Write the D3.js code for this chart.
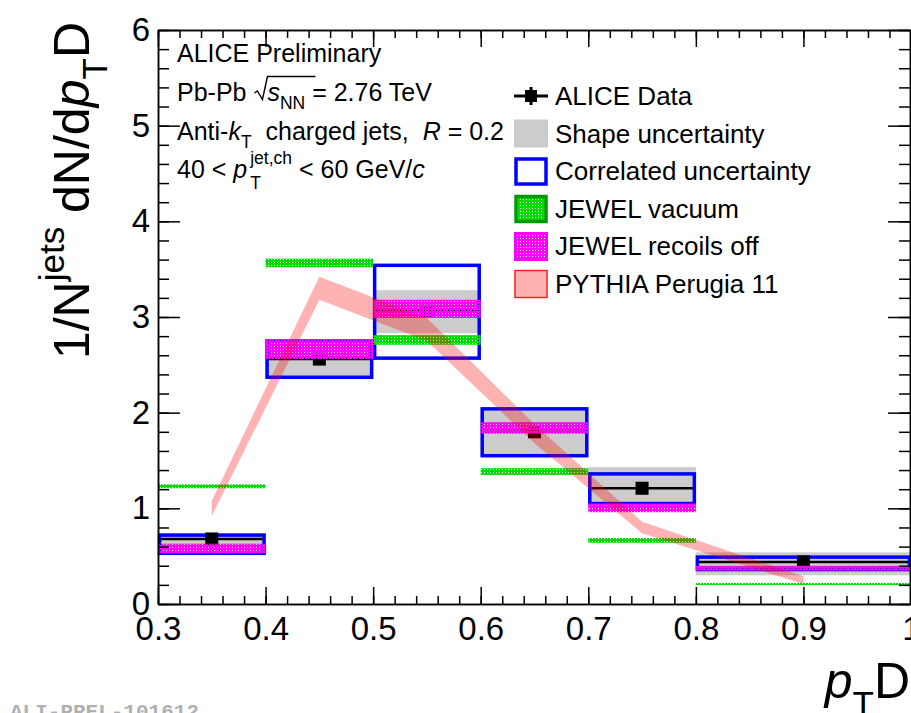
<!DOCTYPE html>
<html>
<head>
<meta charset="utf-8">
<script src="https://cdn.jsdelivr.net/npm/d3@7"></script>
<style>
  body { margin: 0; background: #fff; }
  svg { display: block; font-family: "Liberation Sans", Arial, sans-serif; }
  text { white-space: pre; }
</style>
</head>
<body>
<svg id="chart" width="911" height="713"></svg>
<script>
// bins (pT D)
var binLo = [0.3, 0.4, 0.5, 0.6, 0.7, 0.8];
var binHi = [0.4, 0.5, 0.6, 0.7, 0.8, 1.0];
var binCenter = [0.35, 0.45, 0.55, 0.65, 0.75, 0.9];

// ALICE data
var aliceVal  = [0.68, 2.56, 3.06, 1.80, 1.21, 0.44];
var aliceStat = [0.03, 0.04, 0.05, 0.04, 0.04, 0.02];
// shape uncertainty (grey)
var shapeLo = [0.51, 2.37, 2.83, 1.55, 1.00, 0.30];
var shapeHi = [0.74, 2.75, 3.28, 2.05, 1.43, 0.54];
// correlated uncertainty (blue)
var corrLo = [0.53, 2.37, 2.57, 1.55, 1.05, 0.36];
var corrHi = [0.72, 2.75, 3.54, 2.04, 1.36, 0.49];
// JEWEL vacuum (green)
var vacLo = [1.21, 3.52, 2.71, 1.35, 0.64, 0.20];
var vacHi = [1.25, 3.61, 2.81, 1.42, 0.69, 0.22];
// JEWEL recoils off (magenta)
var recLo = [0.53, 2.56, 2.99, 1.78, 0.96, 0.35];
var recHi = [0.63, 2.77, 3.18, 1.90, 1.05, 0.40];
// PYTHIA Perugia 11
var pythiaX   = [0.35, 0.45, 0.55, 0.65, 0.75, 0.9];
var pythiaVal = [1.00, 3.30, 2.87, 1.78, 0.80, 0.25];
var pythiaErr = [0.08, 0.12, 0.12, 0.10, 0.06, 0.04];

// ticks and labels
var xMajor = [0.3, 0.4, 0.5, 0.6, 0.7, 0.8, 0.9, 1.0];
var yMajor = [0, 1, 2, 3, 4, 5, 6];
var legendLabels = ["ALICE Data", "Shape uncertainty", "Correlated uncertainty",
                    "JEWEL vacuum", "JEWEL recoils off", "PYTHIA Perugia 11"];

var svg = d3.select("#chart");
var x = d3.scaleLinear().domain([0.3, 1.0]).range([158, 911]);
var y = d3.scaleLinear().domain([0, 6]).range([604, 30]);

//patterns for the JEWEL bands (solid colour with little holes)
var defs = svg.append("defs");
function holePattern(id, col) {
  var p = defs.append("pattern").attr("id", id).attr("patternUnits", "userSpaceOnUse")
    .attr("width", 3).attr("height", 3);
  p.append("path").attr("d", "M0,0h3v3h-3z M1,1h1v1h-1z")
    .attr("fill", col).attr("fill-rule", "evenodd");
}
holePattern("pMag", "#ff00ff");
holePattern("pGreen", "#00dd00");

var idx = d3.range(binLo.length);
var plot = svg.append("g");

// grey shape boxes
plot.selectAll("rect.shape").data(idx).enter().append("rect")
  .attr("x", function(i){ return x(binLo[i]); })
  .attr("width", function(i){ return x(binHi[i]) - x(binLo[i]); })
  .attr("y", function(i){ return y(shapeHi[i]); })
  .attr("height", function(i){ return y(shapeLo[i]) - y(shapeHi[i]); })
  .attr("fill", "#cccccc");

// blue correlated boxes
plot.selectAll("rect.corr").data(idx).enter().append("rect")
  .attr("x", function(i){ return x(binLo[i]) + 1.5; })
  .attr("width", function(i){ return x(binHi[i]) - x(binLo[i]) - 3; })
  .attr("y", function(i){ return y(corrHi[i]); })
  .attr("height", function(i){ return y(corrLo[i]) - y(corrHi[i]); })
  .attr("fill", "none").attr("stroke", "#0000ff").attr("stroke-width", 3.5);

// data: horizontal bin line, stat bar, marker
plot.selectAll("line.dh").data(idx).enter().append("line")
  .attr("x1", function(i){ return x(binLo[i]) + 3; })
  .attr("x2", function(i){ return x(binHi[i]) - 3; })
  .attr("y1", function(i){ return y(aliceVal[i]); })
  .attr("y2", function(i){ return y(aliceVal[i]); })
  .attr("stroke", "#000").attr("stroke-width", 2.5);
plot.selectAll("line.dv").data(idx).enter().append("line")
  .attr("x1", function(i){ return x(binCenter[i]); })
  .attr("x2", function(i){ return x(binCenter[i]); })
  .attr("y1", function(i){ return y(aliceVal[i] - aliceStat[i]); })
  .attr("y2", function(i){ return y(aliceVal[i] + aliceStat[i]); })
  .attr("stroke", "#000").attr("stroke-width", 2.5);
plot.selectAll("rect.mk").data(idx).enter().append("rect")
  .attr("x", function(i){ return x(binCenter[i]) - 6.5; })
  .attr("y", function(i){ return y(aliceVal[i]) - 6.5; })
  .attr("width", 13).attr("height", 13).attr("fill", "#000");

// JEWEL vacuum
plot.selectAll("rect.vac").data(idx).enter().append("rect")
  .attr("x", function(i){ return x(binLo[i]); })
  .attr("width", function(i){ return x(binHi[i]) - x(binLo[i]); })
  .attr("y", function(i){ return y(vacHi[i]); })
  .attr("height", function(i){ return Math.max(2, y(vacLo[i]) - y(vacHi[i])); })
  .attr("fill", "url(#pGreen)");

// JEWEL recoils off
plot.selectAll("rect.rec").data(idx).enter().append("rect")
  .attr("x", function(i){ return x(binLo[i]); })
  .attr("width", function(i){ return x(binHi[i]) - x(binLo[i]); })
  .attr("y", function(i){ return y(recHi[i]); })
  .attr("height", function(i){ return y(recLo[i]) - y(recHi[i]); })
  .attr("fill", "url(#pMag)");

// PYTHIA band
var band = d3.area()
  .x(function(i){ return x(pythiaX[i]); })
  .y0(function(i){ return y(pythiaVal[i] - pythiaErr[i]); })
  .y1(function(i){ return y(pythiaVal[i] + pythiaErr[i]); });
plot.append("path").datum(d3.range(pythiaX.length)).attr("d", band)
  .attr("fill", "rgba(255,0,0,0.3)");

/*
 * Axes (ticks inside the frame, ROOT style)
 */
var xMinor = d3.range(0, 36).map(function(k){ return +(0.3 + k * 0.02).toFixed(2); });
var yMinor = d3.range(0, 31).map(function(k){ return +(k * 0.2).toFixed(1); });
var fmtX = function(d){ return d === 1 ? "1" : d.toFixed(1); };

function styleAxis(g) {
  g.selectAll("path, line").attr("stroke", "#000").attr("stroke-width", 1.5);
  g.selectAll("text").attr("font-size", 33).attr("fill", "#000")
    .attr("font-family", "Liberation Sans, Arial, sans-serif");
}

var gx = svg.append("g").attr("transform", "translate(0,604)")
  .call(d3.axisBottom(x).tickValues(xMajor).tickSize(-17).tickSizeOuter(0).tickPadding(13).tickFormat(fmtX));
styleAxis(gx);
svg.append("g").attr("transform", "translate(0,604)")
  .call(d3.axisBottom(x).tickValues(xMinor).tickSize(-8).tickSizeOuter(0).tickFormat(""))
  .call(styleAxis);
svg.append("g").attr("transform", "translate(0,30)")
  .call(d3.axisTop(x).tickValues(xMajor).tickSize(-17).tickSizeOuter(0).tickFormat(""))
  .call(styleAxis);
svg.append("g").attr("transform", "translate(0,30)")
  .call(d3.axisTop(x).tickValues(xMinor).tickSize(-8).tickSizeOuter(0).tickFormat(""))
  .call(styleAxis);

var gy = svg.append("g").attr("transform", "translate(158,0)")
  .call(d3.axisLeft(y).tickValues(yMajor).tickSize(-22).tickSizeOuter(0).tickPadding(8).tickFormat(d3.format("d")));
styleAxis(gy);
svg.append("g").attr("transform", "translate(158,0)")
  .call(d3.axisLeft(y).tickValues(yMinor).tickSize(-11).tickSizeOuter(0).tickFormat(""))
  .call(styleAxis);
svg.append("g").attr("transform", "translate(910,0)")
  .call(d3.axisRight(y).tickValues(yMajor).tickSize(-22).tickSizeOuter(0).tickFormat(""))
  .call(styleAxis);
svg.append("g").attr("transform", "translate(910,0)")
  .call(d3.axisRight(y).tickValues(yMinor).tickSize(-11).tickSizeOuter(0).tickFormat(""))
  .call(styleAxis);

/*
 * rich text helper: pieces laid out left to right
 */
function richText(parent, px, py, pieces, size) {
  var g = parent.append("g").attr("transform", "translate(" + px + "," + py + ")");
  var cx = 0, hold = 0;
  pieces.forEach(function(p) {
    if (p.gap) { cx += p.gap; return; }
    if (p.radical) {
      // radical sign with overline over the following pieces
      g.append("path").attr("d", "M" + (cx + 1) + "," + (-size * 0.32) + "l3,-2l5," + (size * 0.34) +
                            "l5,-" + (size * 0.92) + "h" + p.radical)
        .attr("fill", "none").attr("stroke", "#000").attr("stroke-width", 1.4);
      cx += 14;
      return;
    }
    var fs = size * (p.sub || p.sup ? 0.7 : 1);
    var dy = p.sub ? size * (p.subDy || 0.3) : (p.sup ? -size * (p.supDy || 0.45) : 0);
    var t = g.append("text").attr("x", cx).attr("y", dy)
      .attr("font-size", fs).attr("fill", "#000").text(p.t);
    if (p.italic) t.attr("font-style", "italic");
    var w = t.node().getComputedTextLength();
    if (p.hold) { hold = Math.max(hold, w); }
    else { cx += Math.max(w, hold); hold = 0; }
  });
  return { g: g, width: cx };
}

// top-left labels
var info = svg.append("g");
richText(info, 177, 62, [{t: "ALICE Preliminary"}], 25);
richText(info, 177, 101, [{t: "Pb-Pb "}, {radical: 48}, {t: "s", italic: true}, {t: "NN", sub: true},
                          {t: " = 2.76 TeV"}], 25);
richText(info, 177, 140, [{t: "Anti-"}, {t: "k", italic: true}, {t: "T", sub: true},
                          {t: "  charged jets,"}, {gap: 14}, {t: "R", italic: true}, {t: " = 0.2"}], 25);
richText(info, 177, 178, [{t: "40 < "}, {t: "p", italic: true}, {gap: 3}, {t: "jet,ch", sup: true, hold: true, supDy: 0.55},
                          {t: "T", sub: true, subDy: 0.45}, {t: " < 60 GeV/"}, {t: "c", italic: true}], 25);

// legend
var leg = svg.append("g");
var legY = legendLabels.map(function(d, i){ return 96 + i * 37.5; });
leg.selectAll("text").data(legendLabels).enter().append("text")
  .attr("x", 555).attr("y", function(d, i){ return legY[i] + 9; })
  .attr("font-size", 26).attr("fill", "#000").text(function(d){ return d; });
leg.append("line").attr("x1", 514).attr("x2", 548).attr("y1", legY[0]).attr("y2", legY[0])
  .attr("stroke", "#000").attr("stroke-width", 3);
leg.append("line").attr("x1", 531).attr("x2", 531).attr("y1", legY[0] - 9).attr("y2", legY[0] + 9)
  .attr("stroke", "#000").attr("stroke-width", 3);
leg.append("rect").attr("x", 525).attr("y", legY[0] - 6).attr("width", 12).attr("height", 12).attr("fill", "#000");
leg.append("rect").attr("x", 514).attr("y", legY[1] - 14).attr("width", 34).attr("height", 28).attr("fill", "#cccccc");
leg.append("rect").attr("x", 516).attr("y", legY[2] - 12).attr("width", 30).attr("height", 25)
  .attr("fill", "#fff").attr("stroke", "#0000ff").attr("stroke-width", 3.5);
leg.append("rect").attr("x", 516).attr("y", legY[3] - 12).attr("width", 30).attr("height", 25)
  .attr("fill", "url(#pGreen)").attr("stroke", "#009900").attr("stroke-width", 3.5);
leg.append("rect").attr("x", 515).attr("y", legY[4] - 13).attr("width", 32).attr("height", 27)
  .attr("fill", "url(#pMag)").attr("stroke", "#ff00ff").attr("stroke-width", 2);
leg.append("rect").attr("x", 515).attr("y", legY[5] - 13).attr("width", 32).attr("height", 27)
  .attr("fill", "rgba(255,0,0,0.3)").attr("stroke", "#ff2222").attr("stroke-width", 1.5);

// axis titles
var yt = svg.append("g").attr("transform", "translate(89,22) rotate(-90)");
var ytr = richText(yt, 0, 0, [{t: "1/N"}, {t: "jets", sup: true, supDy: 0.5}, {t: " dN/d"}, {t: "p", italic: true},
                              {t: "T", sub: true, subDy: 0.35}, {t: "D"}], 50);
ytr.g.attr("transform", "translate(" + (-ytr.width) + ",0)");

var xt = svg.append("g");
var xtr = richText(xt, 0, 698, [{t: "p", italic: true}, {t: "T", sub: true, subDy: 0.35}, {t: "D"}], 50);
xtr.g.attr("transform", "translate(" + (910 - xtr.width) + ",698)");

// preliminary id
svg.append("text").attr("x", 10).attr("y", 718)
  .attr("font-family", "Liberation Mono, Courier New, monospace").attr("font-weight", "bold")
  .attr("font-size", 21).attr("fill", "#b0b0b0").text("ALI-PREL-101612");
</script>
</body>
</html>
